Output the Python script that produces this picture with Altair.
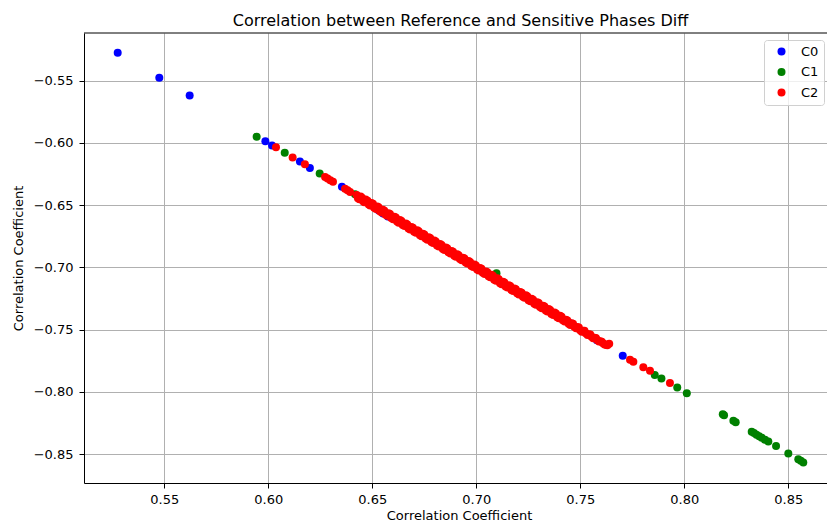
import altair as alt
import pandas as pd

FONT = "DejaVu Sans"

labels = ["C0", "C1", "C2"]
colors = ["blue", "green", "red"]
x_ticks = [0.55, 0.60, 0.65, 0.70, 0.75, 0.80, 0.85]
y_ticks = [-0.55, -0.60, -0.65, -0.70, -0.75, -0.80, -0.85]

c0_x = [0.5276, 0.5476, 0.5622, 0.5986, 0.6018, 0.6152, 0.6200, 0.6354, 0.6530,
        0.6552, 0.6575, 0.6850, 0.7200, 0.7450, 0.7580, 0.7704]
c0_y = [-0.5276, -0.5476, -0.5620, -0.5986, -0.6020, -0.6150, -0.6202, -0.6352, -0.6542,
        -0.6568, -0.6592, -0.6850, -0.7200, -0.7450, -0.7585, -0.7711]

c1_x = [0.5944, 0.6079, 0.6247, 0.6417, 0.7097, 0.7858, 0.7890, 0.7966, 0.8012, 0.8185,
        0.8191, 0.8236, 0.8247, 0.8324, 0.8335, 0.8347, 0.8360, 0.8372, 0.8388, 0.8404,
        0.8441, 0.8500, 0.8548, 0.8560, 0.8572]
c1_y = [-0.5950, -0.6079, -0.6245, -0.6413, -0.7048, -0.7865, -0.7893, -0.7966, -0.8012, -0.8180,
        -0.8188, -0.8232, -0.8245, -0.8322, -0.8332, -0.8345, -0.8358, -0.8370, -0.8385, -0.8400,
        -0.8435, -0.8495, -0.8542, -0.8555, -0.8568]

c2_x = [0.6037, 0.6117, 0.6176, 0.6273, 0.6285, 0.6298, 0.6311, 0.6369, 0.6381, 0.6393,
        0.6425, 0.6438, 0.6450, 0.6462, 0.6477, 0.6490, 0.6503, 0.6518, 0.6530, 0.6545,
        0.6558, 0.6572, 0.6585, 0.6600, 0.6613, 0.6627, 0.6640, 0.6655, 0.6668, 0.6682,
        0.6695, 0.6710, 0.6723, 0.6737, 0.6750, 0.6765, 0.6778, 0.6792, 0.6805, 0.6820,
        0.6833, 0.6847, 0.6860, 0.6875, 0.6888, 0.6902, 0.6915, 0.6930, 0.6943, 0.6957,
        0.6970, 0.6985, 0.6998, 0.7012, 0.7025, 0.7040, 0.7053, 0.7067, 0.7080, 0.7095,
        0.7108, 0.7122, 0.7135, 0.7150, 0.7163, 0.7177, 0.7190, 0.7205, 0.7218, 0.7232,
        0.7245, 0.7260, 0.7273, 0.7287, 0.7300, 0.7315, 0.7328, 0.7342, 0.7355, 0.7370,
        0.7383, 0.7397, 0.7410, 0.7425, 0.7438, 0.7452, 0.7465, 0.7480, 0.7493, 0.7507,
        0.7520, 0.7535, 0.7548, 0.7562, 0.7575, 0.7590, 0.7603, 0.7617, 0.7630, 0.7639,
        0.7739, 0.7755, 0.7803, 0.7835, 0.7931,
        0.6431, 0.6444, 0.6456, 0.6468, 0.6483, 0.6496, 0.6509, 0.6524, 0.6536, 0.6551,
        0.6564, 0.6578, 0.6591, 0.6606, 0.6619, 0.6633, 0.6646, 0.6661, 0.6674, 0.6688,
        0.6701, 0.6716, 0.6729, 0.6743, 0.6756, 0.6771, 0.6784, 0.6798, 0.6811, 0.6826,
        0.6839, 0.6853, 0.6866, 0.6881, 0.6894, 0.6908, 0.6921, 0.6936, 0.6949, 0.6963,
        0.6976, 0.6991, 0.7004, 0.7018, 0.7031, 0.7046, 0.7059, 0.7073, 0.7086, 0.7101,
        0.7114, 0.7128, 0.7141, 0.7156, 0.7169, 0.7183, 0.7196, 0.7211, 0.7224, 0.7238,
        0.7251, 0.7266, 0.7279, 0.7293, 0.7306, 0.7321, 0.7334, 0.7348, 0.7361, 0.7376,
        0.7389, 0.7403, 0.7416, 0.7431, 0.7444, 0.7458, 0.7471, 0.7486, 0.7499, 0.7513,
        0.7526, 0.7541, 0.7554, 0.7568, 0.7581, 0.7596, 0.7609, 0.7623]
c2_y = [-0.6035, -0.6118, -0.6172, -0.6275, -0.6287, -0.6300, -0.6312, -0.6368, -0.6381, -0.6394,
        -0.6418, -0.6452, -0.6440, -0.6477, -0.6464, -0.6503, -0.6490, -0.6532, -0.6517, -0.6559,
        -0.6545, -0.6586, -0.6572, -0.6614, -0.6599, -0.6641, -0.6627, -0.6668, -0.6655, -0.6696,
        -0.6682, -0.6723, -0.6710, -0.6750, -0.6737, -0.6778, -0.6765, -0.6805, -0.6792, -0.6833,
        -0.6820, -0.6860, -0.6847, -0.6888, -0.6875, -0.6915, -0.6902, -0.6943, -0.6930, -0.6970,
        -0.6957, -0.6998, -0.6985, -0.7025, -0.7012, -0.7053, -0.7040, -0.7080, -0.7067, -0.7108,
        -0.7095, -0.7135, -0.7122, -0.7163, -0.7150, -0.7190, -0.7177, -0.7218, -0.7205, -0.7245,
        -0.7232, -0.7273, -0.7260, -0.7300, -0.7287, -0.7328, -0.7315, -0.7355, -0.7342, -0.7383,
        -0.7370, -0.7410, -0.7397, -0.7436, -0.7427, -0.7463, -0.7454, -0.7490, -0.7483, -0.7517,
        -0.7510, -0.7544, -0.7539, -0.7570, -0.7567, -0.7596, -0.7597, -0.7621, -0.7626, -0.7615,
        -0.7743, -0.7758, -0.7803, -0.7832, -0.7930,
        -0.6444, -0.6431, -0.6469, -0.6455, -0.6496, -0.6483, -0.6522, -0.6511, -0.6549, -0.6538,
        -0.6577, -0.6565, -0.6604, -0.6593, -0.6632, -0.6620, -0.6659, -0.6648, -0.6687, -0.6675,
        -0.6714, -0.6703, -0.6742, -0.6730, -0.6769, -0.6758, -0.6797, -0.6785, -0.6824, -0.6813,
        -0.6852, -0.6840, -0.6879, -0.6868, -0.6907, -0.6895, -0.6934, -0.6923, -0.6962, -0.6950,
        -0.6989, -0.6978, -0.7017, -0.7005, -0.7044, -0.7033, -0.7072, -0.7060, -0.7099, -0.7088,
        -0.7127, -0.7115, -0.7154, -0.7143, -0.7182, -0.7170, -0.7209, -0.7198, -0.7237, -0.7225,
        -0.7264, -0.7253, -0.7292, -0.7280, -0.7319, -0.7308, -0.7347, -0.7335, -0.7374, -0.7363,
        -0.7402, -0.7390, -0.7426, -0.7422, -0.7453, -0.7450, -0.7478, -0.7480, -0.7505, -0.7509,
        -0.7530, -0.7538, -0.7557, -0.7566, -0.7583, -0.7594, -0.7610, -0.7622]

rows = []
for lab, xs, ys in [("C0", c0_x, c0_y), ("C1", c1_x, c1_y), ("C2", c2_x, c2_y)]:
    for a, b in zip(xs, ys):
        rows.append({"ref": a, "sens": b, "cluster": lab})
df = pd.DataFrame(rows)
df["order"] = list(range(len(df)))

W, H = 743, 450

points = alt.Chart(df).mark_circle(size=64, opacity=1, clip=True).encode(
    x=alt.X("ref:Q",
            scale=alt.Scale(domain=[0.5114, 0.8686], nice=False, zero=False),
            axis=alt.Axis(title="Correlation Coefficient", values=x_ticks, format=".2f",
                          titleX=375, titlePadding=3, labelPadding=5)),
    y=alt.Y("sens:Q",
            scale=alt.Scale(domain=[-0.8733, -0.5117], nice=False, zero=False),
            axis=alt.Axis(title="Correlation Coefficient", values=y_ticks, format=".2f",
                          titlePadding=8, labelPadding=6)),
    color=alt.Color("cluster:N",
                    scale=alt.Scale(domain=labels, range=colors),
                    legend=alt.Legend(title=None, orient="none", legendX=680, legendY=7,
                                      strokeColor="#d0d0d0", fillColor="rgba(255,255,255,0.8)",
                                      cornerRadius=3, padding=5, symbolOffset=6, labelOffset=13,
                                      rowPadding=6.5, labelFontSize=13, labelFont=FONT,
                                      labelColor="black", symbolSize=64, symbolType="circle",
                                      symbolStrokeWidth=0)),
    order=alt.Order("order:Q"),
)

spine = alt.Chart(pd.DataFrame({"k": [0]})).mark_rule(color="black", strokeWidth=1).encode(
    x=alt.value(0), x2=alt.value(W), y=alt.value(0)
)

chart = alt.layer(points, spine).properties(
    width=W, height=H,
    padding={"left": 84, "top": 33, "right": 0, "bottom": 42},
    autosize=alt.AutoSizeParams(type="none"),
    title=alt.TitleParams("Correlation between Reference and Sensitive Phases Diff",
                          font=FONT, fontSize=16, fontWeight="normal", color="black",
                          anchor="middle", offset=4, dx=5),
).configure_view(stroke=None).configure_axis(
    domainColor="black", domainWidth=1, tickColor="black", tickWidth=1, tickSize=5,
    gridColor="#b0b0b0", gridWidth=1, labelFont=FONT, labelFontSize=13, labelColor="black",
    titleFont=FONT, titleFontSize=13, titleFontWeight="normal", titleColor="black",
)

chart.save("out.html", embed_options={"renderer": "svg", "actions": False})
